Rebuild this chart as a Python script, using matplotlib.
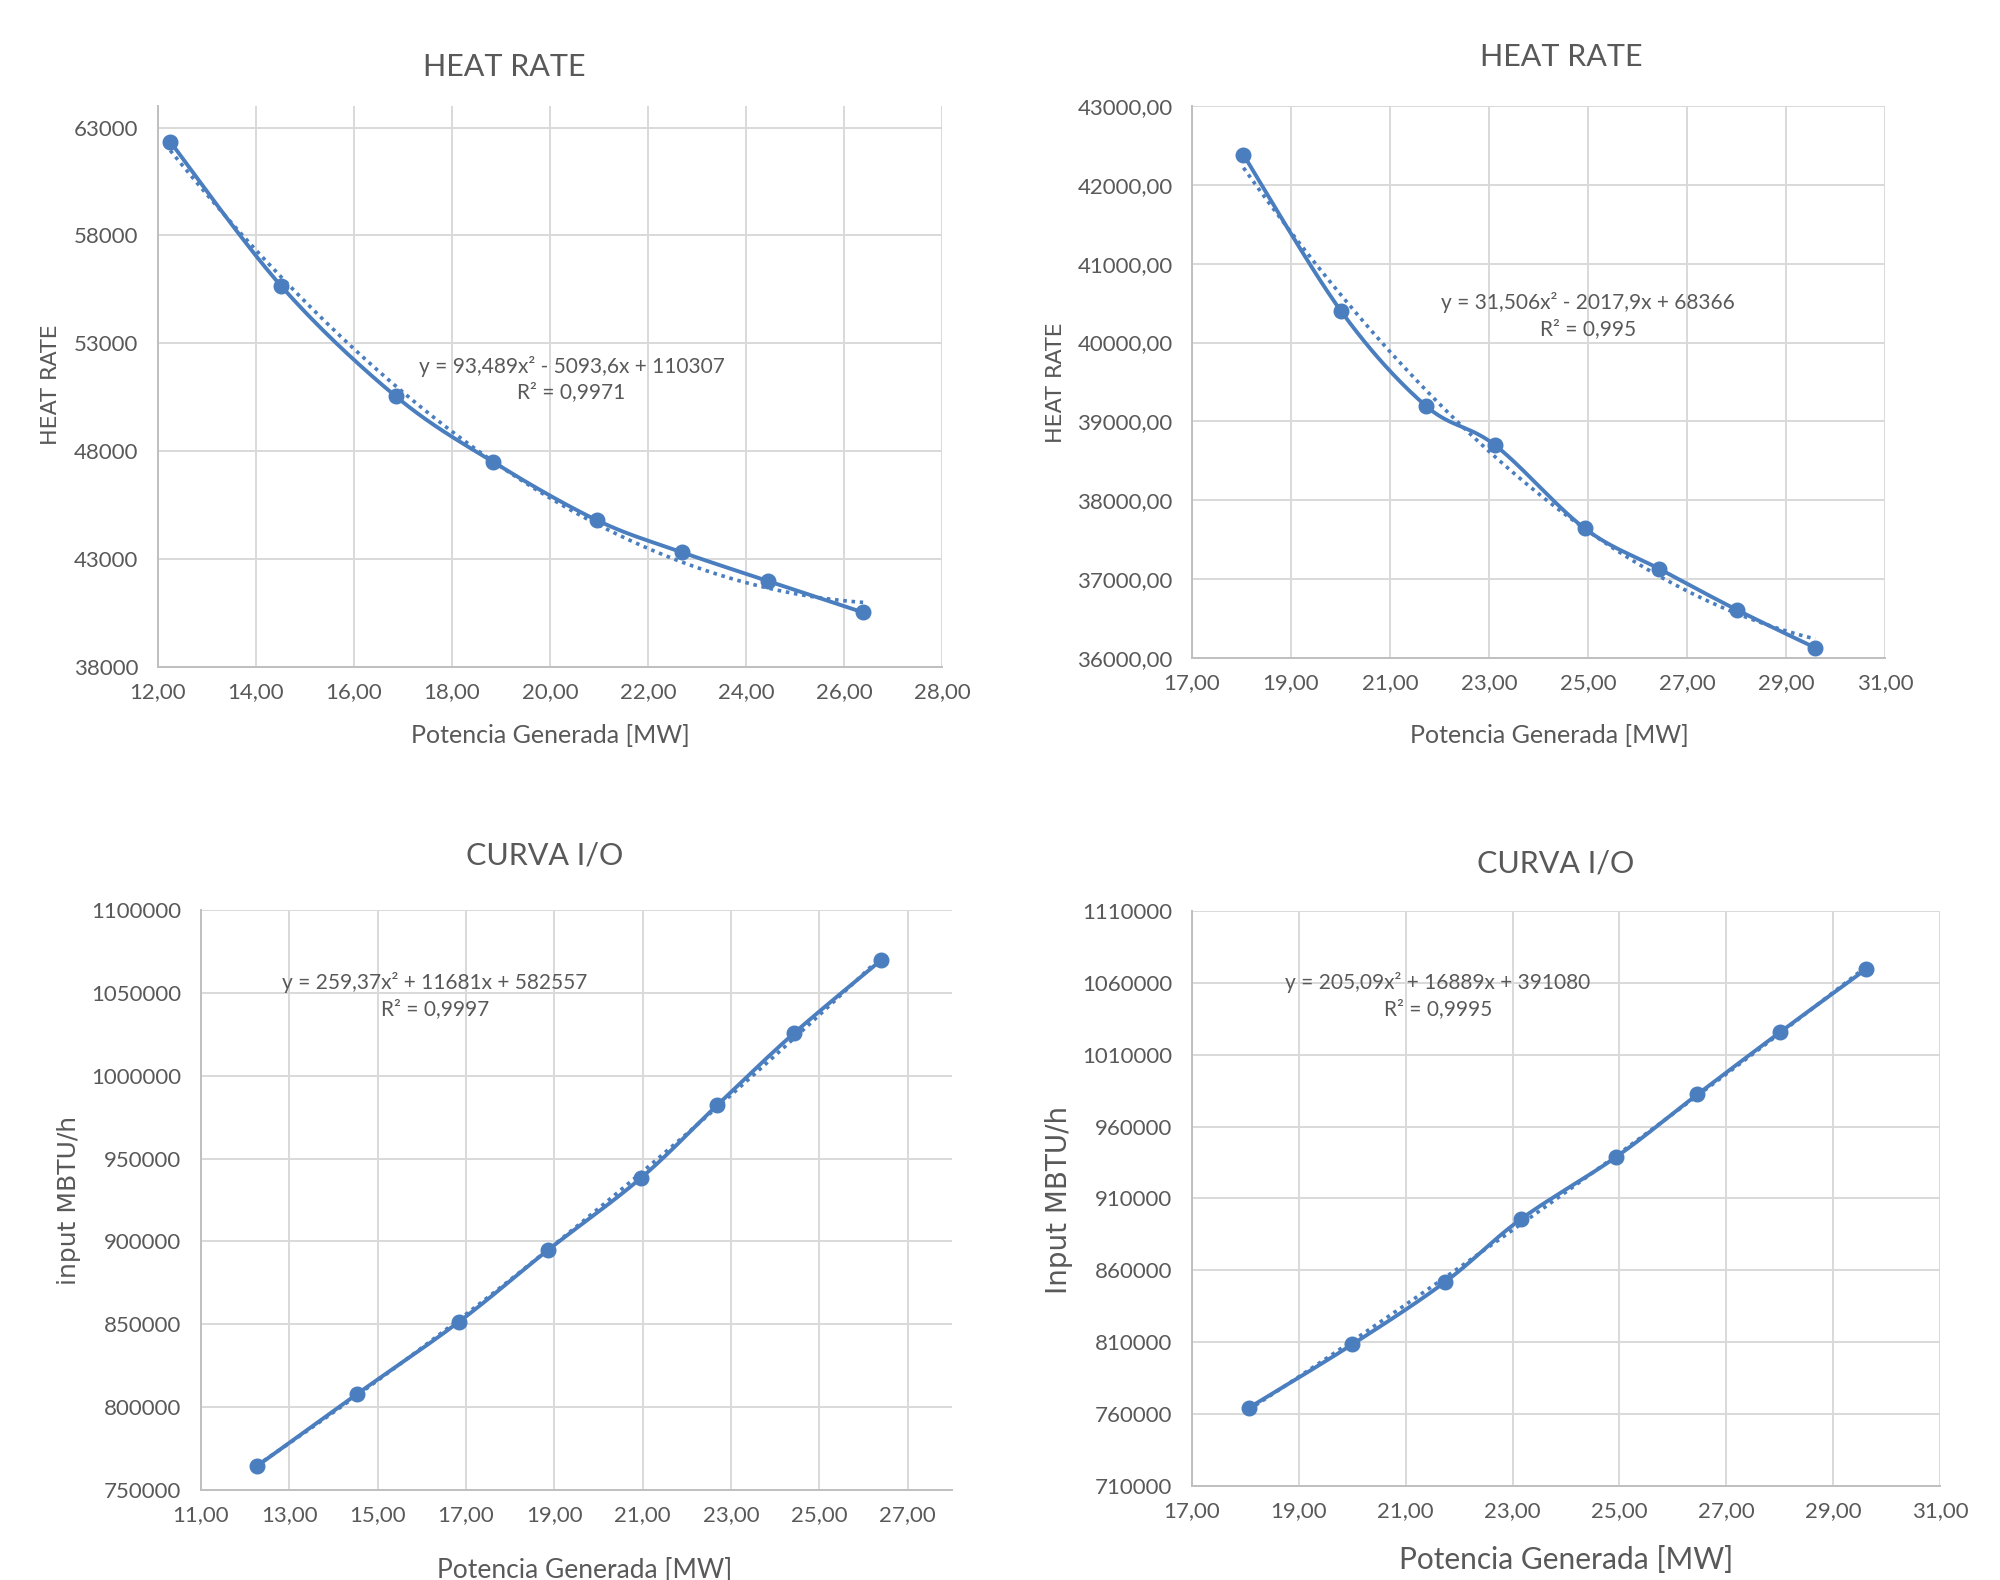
import numpy
import matplotlib
matplotlib.use('Agg')
import matplotlib.pyplot as plt
from matplotlib.ticker import FuncFormatter, MultipleLocator

# Values
hr1_power = [12.25, 14.52, 16.85, 18.84, 20.96, 22.69, 24.44, 26.39]
hr1_rate = [62340, 55640, 50550, 47500, 44800, 43320, 41990, 40530]
hr1_fit = [93.489, -5093.6, 110307]
hr1_eq = ['y = 93,489x² - 5093,6x + 110307', 'R² = 0,9971']

hr2_power = [18.04, 20.01, 21.72, 23.12, 24.93, 26.44, 28.01, 29.59]
hr2_rate = [42380, 40400, 39200, 38700, 37645, 37130, 36610, 36130]
hr2_fit = [31.506, -2017.9, 68366]
hr2_eq = ['y = 31,506x² - 2017,9x + 68366', 'R² = 0,995']

io1_power = [12.26, 14.52, 16.84, 18.86, 20.96, 22.68, 24.43, 26.39]
io1_input = [764300, 807700, 851500, 894900, 938300, 982100, 1025800, 1069600]
io1_fit = [259.37, 11681, 582557]
io1_eq = ['y = 259,37x² + 11681x + 582557', 'R² = 0,9997']

io2_power = [18.06, 20.00, 21.74, 23.15, 24.94, 26.46, 28.01, 29.61]
io2_input = [764300, 808500, 852000, 895500, 938950, 982400, 1025800, 1069400]
io2_fit = [205.09, 16889, 391080]
io2_eq = ['y = 205,09x² + 16889x + 391080', 'R² = 0,9995']

W, H = 2000, 1580
blue = '#4A7EBF'
text_grey = '#595959'
grid_grey = '#D9D9D9'
tick_font = 'Lato'
label_font = 'DejaVu Sans'


def comma2(v, pos):
    return ('%.2f' % v).replace('.', ',')


def plain(v, pos):
    return '%d' % round(v)


# Excel style smoothed line (Catmull-Rom as bezier), done in pixel space
def smooth(xs, ys, xlim, ylim, wpx, hpx, n=40):
    px = (numpy.array(xs) - xlim[0]) / (xlim[1] - xlim[0]) * wpx
    py = (numpy.array(ys) - ylim[0]) / (ylim[1] - ylim[0]) * hpx
    pts = numpy.column_stack([px, py])
    out = []
    t = numpy.linspace(0, 1, n)[:, None]
    for i in range(len(pts) - 1):
        p0 = pts[max(i - 1, 0)]
        p1 = pts[i]
        p2 = pts[i + 1]
        p3 = pts[min(i + 2, len(pts) - 1)]
        c1 = p1 + (p2 - p0) / 6.0
        c2 = p2 - (p3 - p1) / 6.0
        seg = ((1 - t) ** 3) * p1 + 3 * ((1 - t) ** 2) * t * c1 + 3 * (1 - t) * t ** 2 * c2 + t ** 3 * p2
        out.append(seg)
    out = numpy.vstack(out)
    sx = out[:, 0] / wpx * (xlim[1] - xlim[0]) + xlim[0]
    sy = out[:, 1] / hpx * (ylim[1] - ylim[0]) + ylim[0]
    return sx, sy


def fig_xy(x, y):
    return x / W, 1 - y / H


def make_panel(fig, box, xs, ys, fit, eq, eq_pos, xlim, xstep, ylim, ystep, yfmt,
               title, title_pos, xlabel, xlabel_pos, xlabel_size, ylabel, ylabel_pos, ylabel_size):
    left, top, right, bottom = box
    ax = fig.add_axes([left / W, 1 - bottom / H, (right - left) / W, (bottom - top) / H])
    ax.set_xlim(xlim)
    ax.set_ylim(ylim)
    ax.xaxis.set_major_locator(MultipleLocator(xstep, offset=xlim[0] % xstep))
    ax.set_yticks(numpy.arange(ylim[0], ylim[1] + 1, ystep))
    ax.xaxis.set_major_formatter(FuncFormatter(comma2))
    ax.yaxis.set_major_formatter(FuncFormatter(yfmt))
    ax.grid(True, color=grid_grey, linewidth=1.4, zorder=0)
    ax.set_axisbelow(True)
    for side in ['top', 'right']:
        ax.spines[side].set_visible(False)
    for side in ['left', 'bottom']:
        ax.spines[side].set_color('#BFBFBF')
        ax.spines[side].set_linewidth(1.4)
    ax.tick_params(axis='both', length=0, labelsize=16, labelcolor=text_grey)
    ax.tick_params(axis='y', pad=14)
    ax.tick_params(axis='x', pad=11)
    for lab in ax.get_xticklabels() + ax.get_yticklabels():
        lab.set_fontfamily(tick_font)

    # trendline (polynomial order 2), dotted
    tx = numpy.linspace(min(xs), max(xs), 200)
    ty = numpy.polyval(fit, tx)
    ax.plot(tx, ty, linestyle=(0, (1, 1.3)), color=blue, linewidth=2.6, zorder=2)

    sx, sy = smooth(xs, ys, xlim, ylim, right - left, bottom - top)
    ax.plot(sx, sy, color=blue, linewidth=2.8, zorder=3)
    ax.plot(xs, ys, 'o', color=blue, markersize=10.5, zorder=4)

    ax.text(eq_pos[0], eq_pos[1], '\n'.join(eq), ha='center', va='center',
            fontsize=15, color=text_grey, family=tick_font, linespacing=1.35, zorder=5)

    fig.text(*fig_xy(*title_pos), title, ha='center', va='center',
             fontsize=22, color=text_grey, family=tick_font)
    fig.text(*fig_xy(*xlabel_pos), xlabel, ha='center', va='center',
             fontsize=xlabel_size, color=text_grey, family=tick_font)
    fig.text(*fig_xy(*ylabel_pos), ylabel, ha='center', va='center', rotation=90,
             fontsize=ylabel_size, color=text_grey, family=label_font)
    return ax


fig = plt.figure(figsize=(W / 100, H / 100), dpi=100)
fig.patch.set_facecolor('white')

make_panel(fig, (158, 106, 942, 667), hr1_power, hr1_rate, hr1_fit, hr1_eq, (20.44, 51345),
           (12, 28), 2, (38000, 64000), 5000, plain,
           'HEAT RATE', (504, 67), 'Potencia Generada [MW]', (550, 735), 18,
           'HEAT RATE', (51, 385), 16)

make_panel(fig, (1192, 106, 1885, 658), hr2_power, hr2_rate, hr2_fit, hr2_eq, (25.0, 40340),
           (17, 31), 2, (36000, 43000), 1000, comma2,
           'HEAT RATE', (1561, 57), 'Potencia Generada [MW]', (1549, 735), 18,
           'HEAT RATE', (1056, 383), 16)

make_panel(fig, (201, 910, 952, 1490), io1_power, io1_input, io1_fit, io1_eq, (16.29, 1048500),
           (11, 28), 2, (750000, 1100000), 50000, plain,
           'CURVA I/O', (545, 855), 'Potencia Generada [MW]', (585, 1571), 19,
           'input MBTU/h', (69, 1200), 18)

make_panel(fig, (1192, 911, 1940, 1486), io2_power, io2_input, io2_fit, io2_eq, (21.6, 1051300),
           (17, 31), 2, (710000, 1110000), 50000, plain,
           'CURVA I/O', (1556, 863), 'Potencia Generada [MW]', (1566, 1560), 21.5,
           'Input MBTU/h', (1059, 1200), 20)

fig.savefig('out.png', dpi=100, facecolor='white')
